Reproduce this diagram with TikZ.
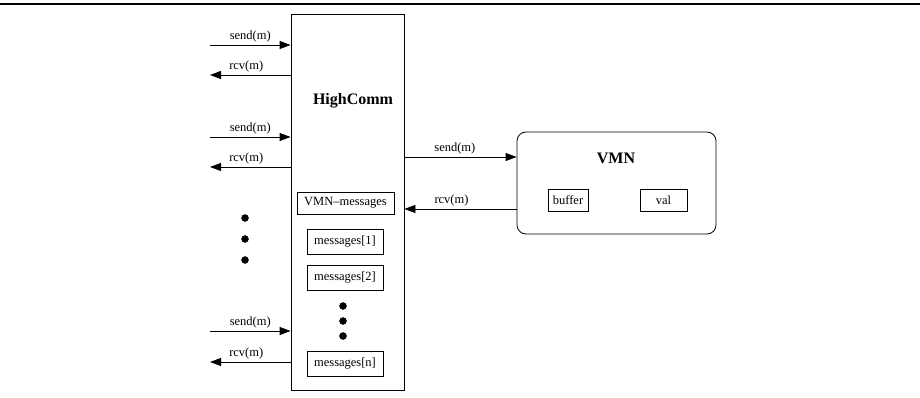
\documentclass[tikz,border=0pt]{standalone}
\usepackage{fontspec}
\setmainfont{Liberation Serif}
\usetikzlibrary{arrows.meta,positioning}

\begin{document}
\begin{tikzpicture}[x=1pt,y=-1pt,font=\fontsize{12.5}{14}\selectfont,
  box/.style={draw,line width=0.8pt,inner sep=0pt},
  arr/.style={line width=0.8pt,-{Triangle[length=11pt,width=8pt]}},
  lbl/.style={above,inner sep=2pt}]
\useasboundingbox (0,0) rectangle (920,398);

\draw[line width=1.5pt] (0,4) -- (920,4);

% components
\node[box,minimum width=113pt,minimum height=376pt] (highcomm) at (347.5,202) {};
\node[font=\fontsize{16}{18}\selectfont\bfseries] (hctitle) at (353,101) {HighComm};
\node[box,minimum width=97pt,minimum height=22pt] (vmnmsg) at (345.5,203) {VMN--messages};
\node[box,minimum width=76pt,minimum height=25pt] (msg1) at (345,241.5) {messages[1]};
\node[box,minimum width=76pt,minimum height=25pt] (msg2) at (345,277.5) {messages[2]};
\node[box,minimum width=76pt,minimum height=25pt] (msgn) at (345,364) {messages[n]};

\node[box,rounded corners=9pt,minimum width=199pt,minimum height=102pt] (vmn) at (616.5,183) {};
\node[font=\fontsize{16}{18}\selectfont\bfseries] (vmntitle) at (616,158) {VMN};
\node[box,minimum width=40pt,minimum height=22pt] (buffer) at (568,200) {buffer};
\node[box,minimum width=47pt,minimum height=22pt] (val) at (663.5,200) {val};

% free ends on the left
\coordinate (s1) at (210,45);
\coordinate (r1) at (210,75);
\coordinate (s2) at (210,137);
\coordinate (r2) at (210,167);
\coordinate (s3) at (210,331);
\coordinate (r3) at (210,362);

\foreach \s/\r in {s1/r1,s2/r2,s3/r3}{
  \draw[arr] (\s) -- (\s -| highcomm.west) node[lbl,midway] {send(m)};
  \draw[arr] (\r -| highcomm.west) -- (\r) node[lbl,pos=0.55] {rcv(m)};
}

\coordinate (vs) at (0,157);
\coordinate (vr) at (0,209);
\draw[arr] (vs -| highcomm.east) -- (vs -| vmn.west) node[lbl,pos=0.45] {send(m)};
\draw[arr] (vr -| vmn.west) -- (vr -| highcomm.east) node[lbl,pos=0.58] {rcv(m)};

% dots
\foreach \y in {218,239,260}
  \draw[fill] (245,\y) circle (3.5pt);
\foreach \y in {306,321,336}
  \draw[fill] (343,\y) circle (3.5pt);

\end{tikzpicture}
\end{document}
